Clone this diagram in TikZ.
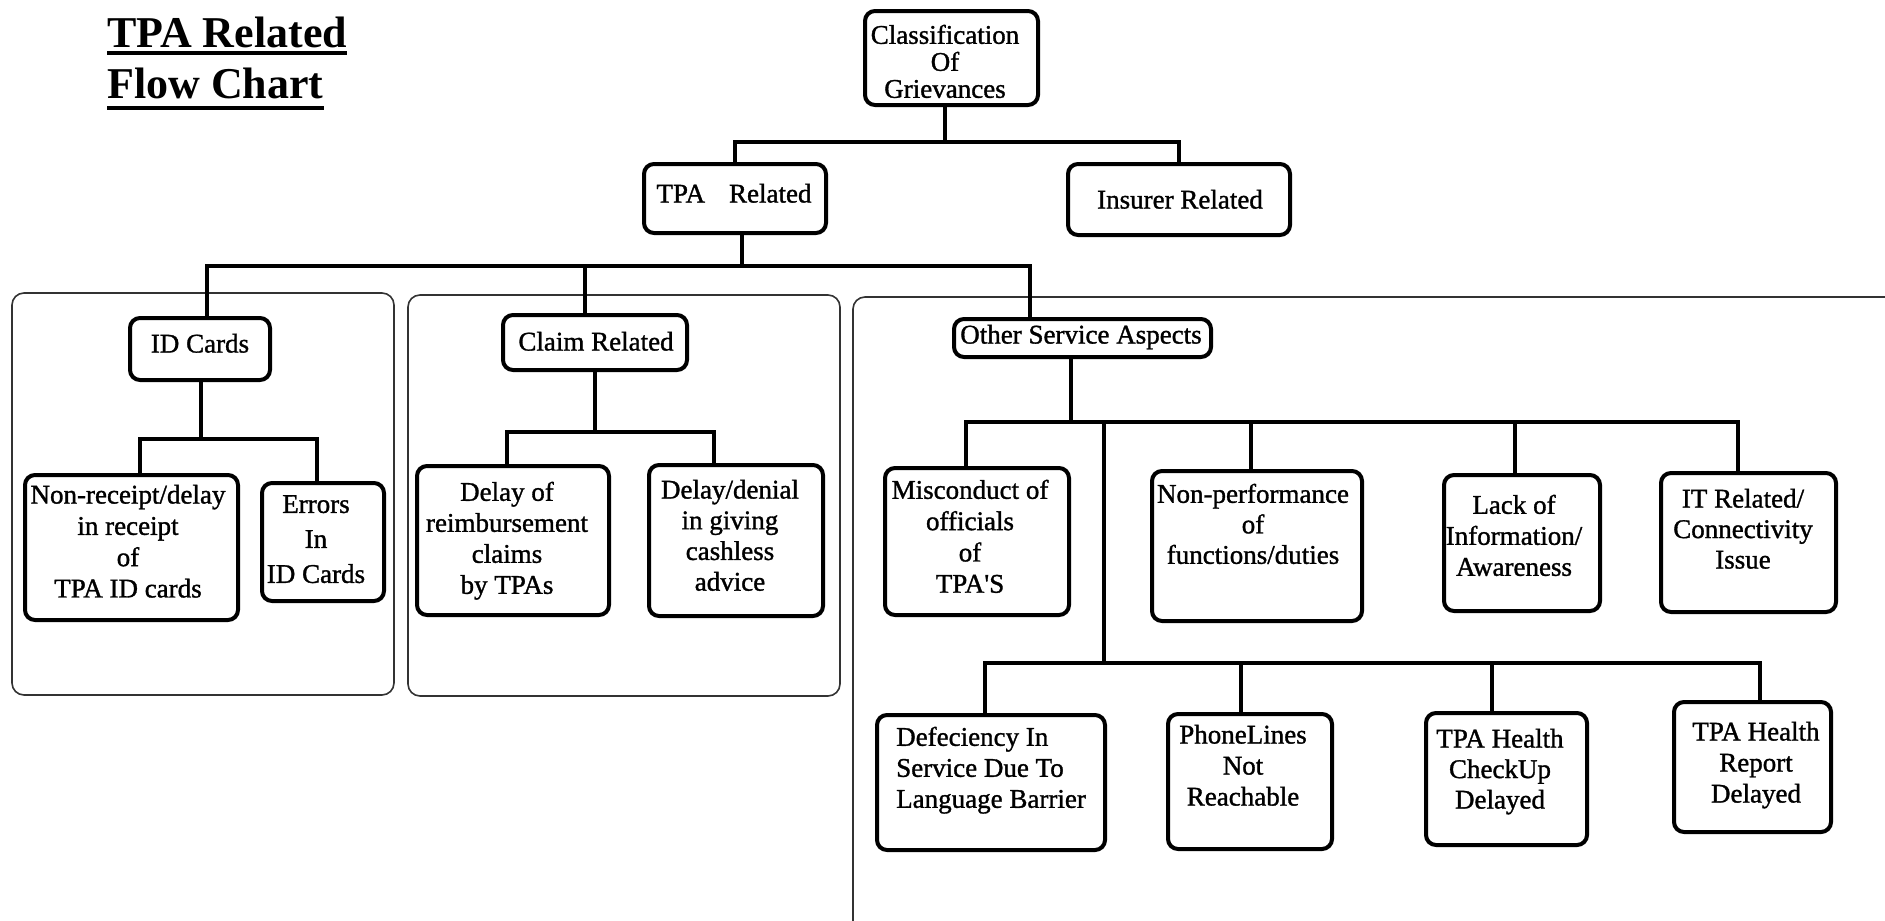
\documentclass[tikz,border=0pt]{standalone}
\usepackage{fontspec}
\setmainfont{Liberation Serif}
\newfontfamily\boxfont[FakeBold=1.2]{Liberation Serif}
\usetikzlibrary{calc}
\begin{document}
\begin{tikzpicture}[x=1pt,y=-1pt,
  box/.style={draw, line width=4pt, rounded corners=10pt, inner sep=0pt},
  conn/.style={line width=4pt, line cap=rect},
  group/.style={draw=black!80, line width=1.6pt, rounded corners=12pt},
  lbl/.style={inner sep=0pt, anchor=north, align=center, font=\boxfont\fontsize{27}{#1}\selectfont},
  lbl/.default=31,
  ttl/.style={inner sep=0pt, anchor=base west, font=\fontsize{44}{50}\selectfont\bfseries},
]
\useasboundingbox (0,0) rectangle (1885,921);
\fill[white] (0,0) rectangle (1885,921);

% title
\node[ttl] (t1) at (107,47) {TPA Related};
\node[ttl] (t2) at (107,98) {Flow Chart};
\draw[line width=4pt] ([yshift=-6pt]t1.base west) -- ([yshift=-6pt]t1.base east);
\draw[line width=4pt] ([yshift=-10pt]t2.base west) -- ([yshift=-10pt]t2.base east);

% grouping frames
\draw[group] (12,293) rectangle (394,695);
\draw[group] (408,295) rectangle (840,696);
\begin{scope}
  \clip (0,0) rectangle (1885,921);
  \draw[group] (853,297) rectangle (1912,948);
\end{scope}

% boxes
\node[box, minimum width=173pt, minimum height=94pt] (cls) at (951.5,58) {};
\node[box, minimum width=182pt, minimum height=69pt] (tpa) at (735,198.5) {};
\node[box, minimum width=222pt, minimum height=71pt] (ins) at (1179,199.5) {};

\node[box, minimum width=140pt, minimum height=62pt] (idc) at (200,349) {};
\node[box, minimum width=213pt, minimum height=145pt] (nr) at (131.5,547.5) {};
\node[box, minimum width=122pt, minimum height=118pt] (err) at (323,542) {};

\node[box, minimum width=184pt, minimum height=55pt] (clm) at (595,342.5) {};
\node[box, minimum width=192pt, minimum height=149pt] (dr) at (513,540.5) {};
\node[box, minimum width=174pt, minimum height=151pt] (dd) at (736,540.5) {};

\node[box, minimum width=257pt, minimum height=38pt] (osa) at (1082.5,338) {};
\node[box, minimum width=184pt, minimum height=147pt] (mis) at (977,541.5) {};
\node[box, minimum width=210pt, minimum height=150pt] (nonp) at (1257,546) {};
\node[box, minimum width=156pt, minimum height=136pt] (lack) at (1522,543) {};
\node[box, minimum width=175pt, minimum height=139pt] (itr) at (1748.5,542.5) {};
\node[box, minimum width=228pt, minimum height=135pt] (def) at (991,782.5) {};
\node[box, minimum width=164pt, minimum height=135pt] (phl) at (1250,781.5) {};
\node[box, minimum width=161pt, minimum height=132pt] (chk) at (1506.5,779) {};
\node[box, minimum width=157pt, minimum height=130pt] (rep) at (1752.5,767) {};

% labels
\node[lbl=27] (cls-t) at (945,24.6) {Classification\\Of\\Grievances};
\node[lbl] (tpa-t) at (734,183.6) {TPA\hspace{24pt}Related};
\node[lbl] (ins-t) at (1180,189.6) {Insurer Related};
\node[lbl] (idc-t) at (200,333.6) {ID Cards};
\node[lbl=31.3] (nr-t) at (128,484.6) {Non-receipt/delay\\in receipt\\of\\TPA ID cards};
\node[lbl=35] (err-t) at (316,495) {Errors\\In\\ID Cards};
\node[lbl] (clm-t) at (596,331.6) {Claim Related};
\node[lbl] (dr-t) at (507,481.6) {Delay of\\reimbursement\\claims\\by TPAs};
\node[lbl=30.7] (dd-t) at (730,479.6) {Delay/denial\\in giving\\cashless\\advice};
\node[lbl] (osa-t) at (1081,324.6) {Other Service Aspects};
\node[lbl=31.3] (mis-t) at (970,479.6) {Misconduct of\\officials\\of\\TPA'S};
\node[lbl=30.5] (nonp-t) at (1253,483.6) {Non-performance\\of\\functions/duties};
\node[lbl] (lack-t) at (1514,494.6) {Lack of\\Information/\\Awareness};
\node[lbl=30.5] (itr-t) at (1743,488.6) {IT Related/\\Connectivity\\Issue};
\node[lbl, anchor=north west, align=left] (def-t) at (896,726.6) {Defeciency In\\Service Due To\\Language Barrier};
\node[lbl] (phl-t) at (1243,724.6) {PhoneLines\\Not\\Reachable};
\node[lbl=30.5] (chk-t) at (1500,728.6) {TPA Health\\CheckUp\\Delayed};
\node[lbl] (rep-t) at (1756,721.6) {TPA Health\\Report\\Delayed};

% junctions of the tree
\coordinate (j1) at (945,142);
\coordinate (j2) at (742,266);
\coordinate (j3) at (201,439);
\coordinate (j4) at (595,432);
\coordinate (j5) at (1071,422);
\coordinate (j6) at (1104,422);
\coordinate (j7) at (1104,663);

% connectors
\draw[conn] (j1) -- (j1 |- cls.south);
\draw[conn] (tpa.north) |- (j1) -| (ins.north);

\draw[conn] (j2) -- (j2 |- tpa.south);
\draw[conn] ([xshift=7pt]idc.north) |- (j2) -| ([xshift=-52.5pt]osa.north);
\draw[conn] ([xshift=-10pt]clm.north) -- ([xshift=-10pt]clm.north |- j2);

\draw[conn] (j3) -- (j3 |- idc.south);
\draw[conn] ([xshift=8.5pt]nr.north) |- (j3) -| ([xshift=-6pt]err.north);

\draw[conn] (j4) -- (j4 |- clm.south);
\draw[conn] ([xshift=-6pt]dr.north) |- (j4) -| ([xshift=-22pt]dd.north);

\draw[conn] (j5) -- (j5 |- osa.south);
\draw[conn] ([xshift=-11pt]mis.north) |- (j5) -| ([xshift=-6pt]nonp.north);
\draw[conn] (j5) -| ([xshift=-7pt]lack.north);
\draw[conn] (j5) -| ([xshift=-10.5pt]itr.north);

\draw[conn] (j6) -- (j7);
\draw[conn] ([xshift=-6pt]def.north) |- (j7) -| ([xshift=-9pt]phl.north);
\draw[conn] (j7) -| ([xshift=-14.5pt]chk.north);
\draw[conn] (j7) -| ([xshift=7.5pt]rep.north);
\end{tikzpicture}
\end{document}
